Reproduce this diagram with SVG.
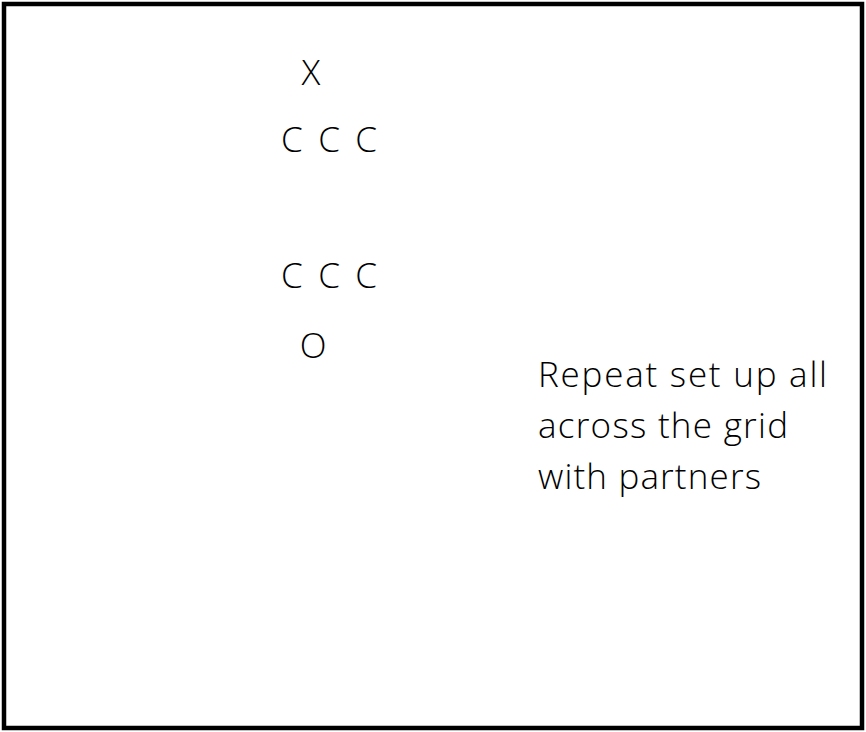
<svg xmlns="http://www.w3.org/2000/svg" width="866" height="732" viewBox="0 0 866 732">
<style>
text{font-family:"Open Sans","Lato","Liberation Sans",sans-serif;font-weight:300;font-size:35px;fill:#000}
</style>
<rect x="0" y="0" width="866" height="732" fill="#fff"/>
<rect id="frame" x="4" y="4" width="858" height="724" fill="none" stroke="#000" stroke-width="4.5"/>
<g id="x-player"><text x="311" y="85" text-anchor="middle">X</text></g>
<g id="cones-top"><text x="281" y="152" textLength="96" lengthAdjust="spacing">C C C</text></g>
<g id="cones-bottom"><text x="281" y="288" textLength="96" lengthAdjust="spacing">C C C</text></g>
<g id="o-player"><text x="313" y="358" text-anchor="middle">O</text></g>
<g id="note">
<text x="538" y="387" textLength="289" lengthAdjust="spacing">Repeat set up all</text>
<text x="538" y="438" textLength="250" lengthAdjust="spacing">across the grid</text>
<text x="538" y="489" textLength="223" lengthAdjust="spacing">with partners</text>
</g>
</svg>
